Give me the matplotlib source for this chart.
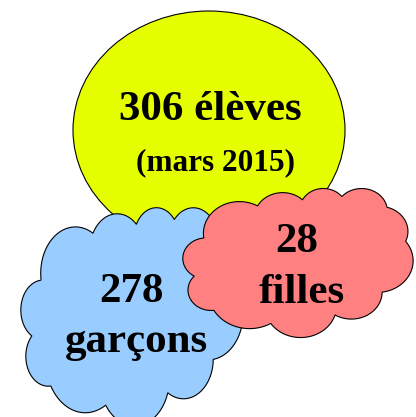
import numpy as np
import matplotlib
matplotlib.use("Agg")
from matplotlib import pyplot as plt
from matplotlib.patches import Ellipse

# data
total = 306
date = "mars 2015"
groups = ["garçons", "filles"]
counts = [278, 28]
colors = ["#99ccff", "#ff8080"]

# cloud outline (office "cloud" shape, 43200 x 43200 units)
CLOUD_START = (3900, 14370)
CLOUD_ARCS = [(6753, 9190, -11429249, 7426832),
              (5333, 7267, -8646143, 5396714),
              (4365, 5945, -8748475, 5983381),
              (4857, 6595, -7859164, 7034504),
              (5333, 7273, -4722533, 6541615),
              (6775, 9220, -2776035, 7816140),
              (5785, 7867, 37501, 6842000),
              (6752, 9215, 1347096, 6910353),
              (7720, 10543, 3974558, 4542661),
              (4360, 5918, -16496525, 8804134),
              (4345, 5945, -14809710, 9151131)]

def ell_pt(wr, hr, a):
    c, s = np.cos(a), np.sin(a)
    r = wr * hr / np.hypot(hr * c, wr * s)
    return r * c, r * s

def cloud(x0, y0, w, h):
    px, py = CLOUD_START
    pts = [(px, py)]
    for wr, hr, st, sw in CLOUD_ARCS:
        a0 = np.radians(st / 60000)
        a1 = np.radians((st + sw) / 60000)
        sx, sy = ell_pt(wr, hr, a0)
        cx, cy = px - sx, py - sy
        for a in np.linspace(a0, a1, 40)[1:]:
            ex, ey = ell_pt(wr, hr, a)
            pts.append((cx + ex, cy + ey))
        px, py = pts[-1]
    pts = np.array(pts) / 43200
    return x0 + pts[:, 0] * w, y0 + pts[:, 1] * h

fig = plt.figure(figsize=(4.16, 4.17), dpi=100)
ax = fig.add_axes([0, 0, 1, 1])
ax.set_xlim(0, 416)
ax.set_ylim(417, 0)
ax.axis("off")

font = dict(family="Liberation Serif", weight="bold", ha="center", va="baseline")

ax.add_patch(Ellipse((209, 130), 272, 238, fc="#e6ff00", ec="black", lw=0.8, zorder=1))
ax.text(210, 120, f"{total} élèves", fontsize=31, zorder=5, **font)
ax.text(215, 170, f"({date})", fontsize=22.5, zorder=5, **font)

boxes = [(21, 207, 222, 218), (183, 188, 230, 149)]
label_pos = [(131, 136, 302, 352), (297, 302, 252, 303)]
for i, (g, n, c) in enumerate(zip(groups, counts, colors)):
    xs, ys = cloud(*boxes[i])
    ax.fill(xs, ys, fc=c, ec="black", lw=0.8, zorder=2 + i)
    x1, x2, y1, y2 = label_pos[i]
    ax.text(x1, y1, str(n), fontsize=31, zorder=5, **font)
    ax.text(x2, y2, g, fontsize=31, zorder=5, **font)

fig.savefig("out.png", dpi=100)
